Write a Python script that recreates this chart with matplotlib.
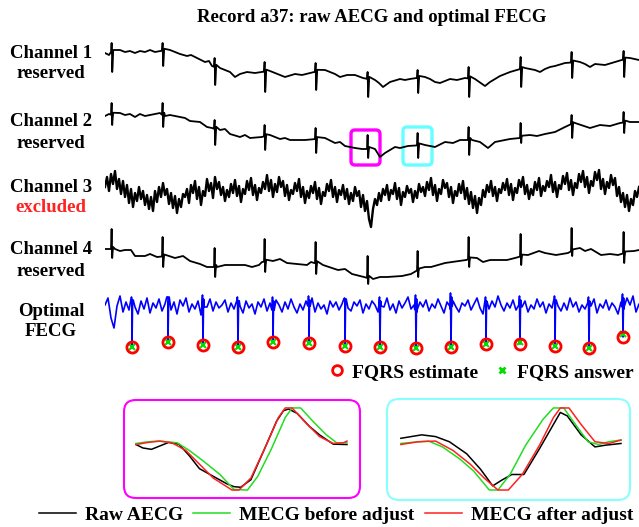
import numpy as np
import matplotlib
matplotlib.use("Agg")
import matplotlib.pyplot as plt
from matplotlib.patches import FancyBboxPatch
from matplotlib.lines import Line2D
from matplotlib.font_manager import FontProperties

# maternal / fetal beat times (s)
mqrs_t = [0.07, 0.58, 1.10, 1.60, 2.11, 2.63, 3.13, 3.64, 4.16, 4.67, 5.19]
fqrs_t = [0.27, 0.63, 0.98, 1.33, 1.68, 2.04, 2.40, 2.75, 3.11, 3.46, 3.81, 4.15, 4.50, 4.84, 5.18]

# channel 1
ch1_base_t = [0.00, 0.04, 0.07, 0.15, 0.20, 0.25, 0.30, 0.35, 0.40, 0.45, 0.50, 0.55, 0.65, 0.70, 0.75,
              0.82, 0.86, 0.90, 1.00, 1.04, 1.07, 1.15, 1.20, 1.25, 1.30, 1.35, 1.42, 1.50, 1.57, 1.65,
              1.70, 1.75, 1.80, 1.90, 1.97, 2.05, 2.20, 2.25, 2.30, 2.35, 2.42, 2.50, 2.58, 2.70, 2.74,
              2.78, 2.85, 2.95, 3.00, 3.05, 3.20, 3.25, 3.30, 3.35, 3.45, 3.52, 3.60, 3.70, 3.80, 3.85,
              3.95, 4.05, 4.20, 4.30, 4.35, 4.40, 4.45, 4.50, 4.60, 4.75, 4.80, 4.85, 4.90, 5.00, 5.10,
              5.25, 5.34]
ch1_base_v = [17, 15, 18, 20, 18, 19, 17, 19, 18, 20, 18, 19, 20, 18, 16,
              14, 15, 13, 8, 9, 4, 2, 0, -2, -7, -4, -2, -3, -2, -1,
              -3, -5, -7, -4, -5, -3, 0, -2, -4, -7, -5, -5, -8, -10, -13,
              -17, -12, -9, -10, -9, -7, -9, -12, -13, -9, -10, -8, -9, -16, -12,
              -6, -2, 2, 0, -2, 1, 3, 4, 7, 8, 6, 3, 6, 5, 8,
              12, 10]
ch1_top = [27, 27, 12, 8, 7, -2, 0, 3, 13, 18, 19]
ch1_bot = [-2, 4, -15, -22, -20, -27, -23, -27, -17, -8, -7]

# channel 2
ch2_base_t = [0.00, 0.04, 0.08, 0.15, 0.20, 0.25, 0.30, 0.35, 0.40, 0.45, 0.55, 0.60, 0.65, 0.75, 0.80,
              0.85, 0.95, 1.02, 1.07, 1.15, 1.20, 1.25, 1.35, 1.40, 1.45, 1.57, 1.65, 1.75, 1.80, 1.85,
              2.00, 2.12, 2.20, 2.30, 2.35, 2.40, 2.50, 2.57, 2.70, 2.75, 2.80, 2.90, 2.95, 3.03, 3.20,
              3.30, 3.40, 3.48, 3.55, 3.67, 3.75, 3.83, 3.90, 4.05, 4.15, 4.25, 4.32, 4.40, 4.50, 4.60,
              4.70, 4.85, 4.95, 5.05, 5.15, 5.25, 5.34]
ch2_base_v = [19, 21, 20, 22, 20, 21, 18, 21, 19, 20, 22, 19, 20, 18, 17,
              14, 13, 8, 7, 5, 6, 1, -2, 0, -3, -2, 0, -4, -3, -5,
              -5, -4, -3, -8, -7, -11, -13, -14, -14, -22, -18, -12, -13, -11, -10,
              -12, -7, -8, -5, -5, -7, -13, -7, -4, -3, 0, -1, 1, 3, 8,
              12, 7, 10, 9, 12, 13, 13]
ch2_top = [32, 32, 15, 10, 7, 0, 2, 8, 12, 20, 23]
ch2_bot = [10, 8, -10, -15, -18, -23, -23, -20, -8, -3, 2]

# channel 3 (excluded, noisy), sampled every 0.02 s
ch3_v = [12, 22, 8, 25, 15, 28, 10, 20, 5, 18, 2, 14, -4, 10, -8, 6, -2, 12, 0, 8,
         -6, 4, -10, 2, -12, 8, -3, 12, 2, 16, 4, 10, -5, 6, -9, 3, -14, 0, -8, 5,
         2, 10, -4, 14, 6, 18, 0, 12, -6, 8, 3, 20, 8, 16, 1, 22, 10, 17, 4, 12,
         -2, 9, 2, 15, 6, 19, 3, 13, -3, 10, 5, 18, 9, 21, 4, 14, -1, 11, 6, 17,
         10, 24, 8, 19, 2, 15, 7, 22, 12, 18, 3, 14, -1, 9, 5, 16, 8, 20, 2, 12,
         -4, 8, 1, 13, 6, 17, 0, 11, -5, 7, 3, 15, 8, 19, 2, 12, -3, 9, 4, 14,
         0, 10, -5, 6, -2, 12, 3, 8, -8, 4, -12, -2, -20, -28, -10, 0, -6, 6, -2, 10,
         4, 14, -1, 9, 5, 16, 0, 11, -6, 7, 2, 13, 6, 10, -3, 8, 1, 15, 7, 12,
         3, 17, 9, 21, 4, 14, -2, 10, 5, 19, 11, 16, 2, 12, -4, 8, 3, 15, 6, 18,
         0, 11, -5, 7, -9, 3, -14, 1, -6, 9, 2, 14, 7, 18, 3, 12, -2, 10, 6, 16,
         9, 20, 4, 15, -1, 11, 6, 19, 12, 22, 5, 14, 0, 10, 4, 17, 9, 21, 3, 13,
         8, 18, 12, 24, 7, 17, 2, 14, 10, 23, 15, 26, 9, 19, 4, 16, 11, 25, 17, 28,
         12, 22, 6, 18, 13, 27, 19, 29, 10, 20, 5, 17, 11, 24, 14, 21, 3, 12, -3, 6,
         -8, 4, -12, 0, -6, 8, 2, 12]

# channel 4
ch4_base_t = [0.00, 0.10, 0.15, 0.20, 0.26, 0.30, 0.40, 0.45, 0.52, 0.64, 0.70, 0.78, 0.85, 0.95, 1.02,
              1.12, 1.20, 1.26, 1.40, 1.47, 1.54, 1.57, 1.68, 1.75, 1.82, 2.02, 2.06, 2.18, 2.33, 2.40,
              2.47, 2.59, 2.68, 2.75, 2.82, 2.97, 3.06, 3.20, 3.26, 3.33, 3.40, 3.61, 3.72, 3.78, 3.85,
              4.02, 4.10, 4.23, 4.34, 4.40, 4.51, 4.63, 4.75, 4.80, 4.86, 4.96, 5.05, 5.13, 5.29, 5.34]
ch4_base_v = [8, 8, 6, 7, 7, 1, 1, 3, 0, 1, -1, 1, -4, -7, -10,
              -10, -8, -8, -8, -10, -8, -5, -4, -2, -6, -8, -5, -8, -13, -12,
              -17, -20, -22, -20, -20, -19, -17, -10, -10, -8, -6, -3, -1, -5, -3,
              -3, -1, 2, 6, 4, 2, 4, 9, 6, 8, 2, 3, 2, 6, 7]
ch4_top = [28, 20, 9, 18, 15, 1, 6, 20, 23, 29, 25]
ch4_bot = [-1, -10, -20, -15, -17, -27, -20, -10, -8, 1, -6]

# optimal FECG, sampled every 0.03 s
fecg_v = [5, 12, -8, -18, 4, 14, -2, 8, 0, 10, 3, -4, 9, 1, 12, -3, 7, 2, 11, -1,
          6, 13, 0, 8, -4, 10, 4, 12, -2, 6, 1, 9, -5, 7, 3, 11, -1, 8, 2, 5,
          10, -2, 7, 1, 12, 4, -3, 9, 2, 6, -4, 8, 3, 11, -1, 7, 0, 10, 5, -2,
          8, 1, 11, 3, -3, 6, 0, 9, 4, 12, -2, 7, 1, 5, -4, 9, 3, 8, 0, 6,
          11, 2, -1, 8, 4, 10, -3, 6, 1, 9, 5, -2, 7, 3, 12, 0, 6, -3, 9, 2,
          7, 13, 1, 5, -2, 8, 3, 10, -1, 6, 2, 11, 4, -3, 8, 1, 9, 3, -2, 7,
          4, 10, 0, 6, 12, 2, -4, 8, 1, 9, 3, 14, 5, -1, 7, 2, 10, 0, 6, 3,
          9, -2, 5, 1, 11, 3, 8, -3, 6, 2, 10, 4, -1, 7, 0, 12, 3, 8, -2, 5,
          1, 9, 4, 11, -3, 6, 2, 10, 0, 7, 3, -4, 8, 1, 12, 5, 14, -2, 6, 3]
fqrs_top = [13, 12, 15, 13, 13, 14, 12, 13, 15, 17, 13, 14, 14, 13, 16]
fqrs_est_v = [-37, -32, -35, -37, -32, -33, -36, -37, -38, -37, -34, -34, -36, -38, -27]
fqrs_ans_v = [-37, -32, -35, -37, -32, -33, -36, -37, -38, -37, -34, -32, -36, -38, -24]

# zoomed beats (magenta = left box, cyan = right box)
box1_raw_x = [0, 2, 4.5, 7, 9.5, 12.5, 15.5, 18.5, 22.5, 26.5, 28.5, 30.5, 33.5, 37.5, 41, 43, 44.5, 47, 50.5, 53.5, 57.5, 61.5]
box1_raw_y = [13.2, 12.2, 11.8, 12.8, 13.8, 13.3, 10.0, 6.2, 4.0, 1.8, 1.0, 0.8, 3.0, 12.0, 20.0, 23.0, 23.5, 22.2, 18.5, 16.0, 13.3, 13.2]
box1_before_x = [0, 3.5, 6.5, 12, 15.5, 19.5, 24.5, 28.5, 32.5, 35.5, 39.5, 43.5, 45.5, 48, 51.5, 55.5, 58.5, 61.5]
box1_before_y = [13.5, 14.0, 14.2, 13.7, 11.5, 8.5, 4.5, 0.2, 0.0, 4.0, 12.0, 21.0, 23.8, 23.8, 20.0, 16.0, 13.7, 13.7]
box1_after_x = [0, 3.5, 7, 10.5, 14.5, 18.5, 22.5, 28, 30, 33.5, 37.5, 41.5, 43.5, 45.5, 49.5, 53.5, 57.5, 60.5, 61.5]
box1_after_y = [13.2, 13.8, 14.2, 13.7, 11.5, 7.5, 3.5, 0.0, 0.0, 3.5, 12.0, 21.0, 23.8, 23.8, 19.5, 15.5, 13.5, 13.7, 14.2]
box2_raw_x = [0, 3, 6, 10, 14, 19, 23, 26.5, 29, 32, 35.5, 40, 44, 46, 48, 52, 56, 59, 63.5]
box2_raw_y = [15.0, 15.5, 16.0, 15.5, 14.0, 10.5, 6.0, 1.2, 2.8, 4.5, 4.5, 12.0, 19.0, 22.5, 21.5, 16.0, 12.5, 13.0, 13.5]
box2_before_x = [0, 3, 8, 12, 17, 21, 25.5, 28, 31.5, 36, 41, 44, 47, 50, 54, 57, 60, 63.5]
box2_before_y = [13.5, 13.8, 14.2, 12.5, 9.0, 5.5, 0.0, 0.0, 4.5, 13.0, 20.5, 23.8, 23.8, 19.5, 14.0, 13.2, 14.0, 14.5]
box2_after_x = [0, 5, 10, 15, 20, 24, 28, 31, 35, 40, 44, 46, 48.5, 52, 56, 60, 63.5]
box2_after_y = [13.2, 14.0, 14.2, 11.5, 7.5, 3.5, 0.0, 0.0, 4.5, 13.0, 21.0, 23.8, 23.8, 19.0, 14.0, 13.5, 14.5]


def add_beats(base_t, base_v, beat_t, tops, bots):
    t = list(base_t)
    v = list(base_v)
    for tb, top, bot in zip(beat_t, tops, bots):
        b = float(np.interp(tb, base_t, base_v))
        t += [tb - 0.010, tb - 0.004, tb + 0.002, tb + 0.006, tb + 0.012]
        v += [b, top, bot, bot + 6, b + 2]
    order = np.argsort(t, kind="stable")
    return np.array(t)[order], np.array(v)[order]


W, H = 639, 527
fig = plt.figure(figsize=(W / 100, H / 100), dpi=100)
font = FontProperties(family="Liberation Serif", weight="bold", size=13.5)
font_leg = FontProperties(family="Liberation Serif", weight="bold", size=14)


def px_axes(x0, y0, x1, y1):
    ax = fig.add_axes([x0 / W, 1 - y1 / H, (x1 - x0) / W, (y1 - y0) / H])
    ax.set_axis_off()
    return ax


fig.text(372 / W, 1 - 18 / H, "Record a37: raw AECG and optimal FECG",
         ha="center", va="center", fontproperties=font)

# channel labels
labels = [("Channel 1", "reserved", "black", 53, 73),
          ("Channel 2", "reserved", "black", 122, 143),
          ("Channel 3", "excluded", "#ff2222", 187, 207),
          ("Channel 4", "reserved", "black", 250, 271),
          ("Optimal", "FECG", "black", 311, 332)]
for top_txt, bot_txt, col, y1, y2 in labels:
    fig.text(51 / W, 1 - y1 / H, top_txt, ha="center", va="center", fontproperties=font)
    fig.text(51 / W, 1 - y2 / H, bot_txt, ha="center", va="center", fontproperties=font, color=col)

# raw channels
ax1 = px_axes(105, 35, 639, 105)
t, v = add_beats(ch1_base_t, ch1_base_v, mqrs_t, ch1_top, ch1_bot)
ax1.plot(t, v, color="black", lw=1.3)

ax2 = px_axes(105, 100, 639, 170)
t, v = add_beats(ch2_base_t, ch2_base_v, mqrs_t, ch2_top, ch2_bot)
ax2.plot(t, v, color="black", lw=1.3)
for x0, x1, y0, y1, col in [(2.46, 2.75, -30, 5, "#ff00ff"), (2.98, 3.27, -30, 8, "#66ffff")]:
    ax2.add_patch(FancyBboxPatch((x0, y0), x1 - x0, y1 - y0,
                                 boxstyle="round,pad=0,rounding_size=0.04",
                                 mutation_aspect=100, fill=False, ec=col, lw=2.4))

ax3 = px_axes(105, 164, 639, 234)
ax3.plot(np.arange(len(ch3_v)) * 0.02, ch3_v, color="black", lw=1.7)

ax4 = px_axes(105, 222, 639, 292)
t, v = add_beats(ch4_base_t, ch4_base_v, mqrs_t, ch4_top, ch4_bot)
ax4.plot(t, v, color="black", lw=1.3)

for ax in (ax1, ax2, ax3, ax4):
    ax.set_xlim(0, 5.34)
    ax.set_ylim(-35, 35)

# optimal FECG
ax5 = px_axes(105, 275, 639, 355)
ft = list(np.arange(len(fecg_v)) * 0.03)
fv = list(fecg_v)
for tb, top, m in zip(fqrs_t, fqrs_top, fqrs_est_v):
    b = float(np.interp(tb, np.arange(len(fecg_v)) * 0.03, fecg_v))
    ft += [tb - 0.012, tb - 0.005, tb, tb + 0.006, tb + 0.012]
    fv += [b, top, m, top - 4, b]
order = np.argsort(ft, kind="stable")
ax5.plot(np.array(ft)[order], np.array(fv)[order], color="#0000ff", lw=1.2)
ax5.plot(fqrs_t, fqrs_ans_v, ls="none", marker="x", color="#00dd00", ms=4, mew=1.5, clip_on=False)
ax5.plot(fqrs_t, fqrs_est_v, ls="none", marker="o", mfc="none", mec="red", ms=8, mew=2, clip_on=False)
ax5.set_xlim(0, 5.34)
ax5.set_ylim(-45, 35)

fig.legend(handles=[Line2D([], [], ls="none", marker="o", mfc="none", mec="red", ms=7, mew=2),
                    Line2D([], [], ls="none", marker="x", color="#00dd00", ms=4, mew=2)],
           labels=["FQRS estimate", "FQRS answer"], loc="center",
           bbox_to_anchor=(482 / W, 1 - 372 / H), ncol=2, frameon=False, prop=font_leg,
           handlelength=0.7, handletextpad=0.4, columnspacing=0.9, borderpad=0)

# zoomed beats
boxes = [((124, 400, 360, 498), "#ff00ff", (-3.5, 65.3), (-2.3, 26.1),
          (box1_raw_x, box1_raw_y), (box1_before_x, box1_before_y), (box1_after_x, box1_after_y)),
         ((387, 399, 630, 500), "#88ffff", (-4.0, 66.1), (-2.9, 26.4),
          (box2_raw_x, box2_raw_y), (box2_before_x, box2_before_y), (box2_after_x, box2_after_y))]
for (x0, y0, x1, y1), col, xl, yl, raw, before, after in boxes:
    ax = px_axes(x0, y0, x1, y1)
    ax.add_patch(FancyBboxPatch((0, 0), 1, 1, boxstyle="round,pad=0,rounding_size=0.05",
                                mutation_aspect=(x1 - x0) / (y1 - y0), transform=ax.transAxes,
                                fill=False, ec=col, lw=1.5, clip_on=False))
    ax.plot(*raw, color="black", lw=1.1)
    ax.plot(*before, color="#22dd22", lw=1.1)
    ax.plot(*after, color="#ff2020", lw=1.1)
    ax.set_xlim(*xl)
    ax.set_ylim(*yl)

fig.legend(handles=[Line2D([], [], color="black", lw=1.1),
                    Line2D([], [], color="#22dd22", lw=1.1),
                    Line2D([], [], color="#ff2020", lw=1.1)],
           labels=["Raw AECG", "MECG before adjust", "MECG after adjust"], loc="center",
           bbox_to_anchor=(336 / W, 1 - 515 / H), ncol=3, frameon=False, prop=font_leg,
           handlelength=1.9, handletextpad=0.45, columnspacing=0.55, borderpad=0)

fig.savefig("out.png", dpi=100)
